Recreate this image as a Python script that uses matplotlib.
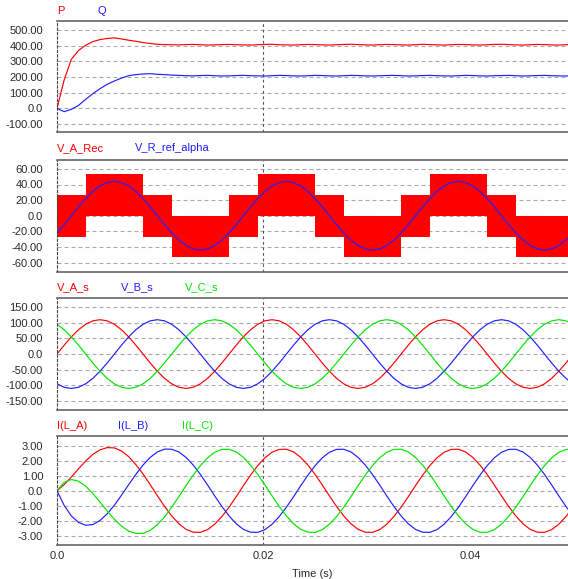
import numpy as np
import matplotlib
matplotlib.use('Agg')
import matplotlib.pyplot as plt
from matplotlib.ticker import FuncFormatter

W, H = 568, 579
DPI = 100

FONT = 'Liberation Sans'
SMALL_SIZE = 8
LW = 0.85

RED = '#ff0000'
BLUE = '#1f1fff'
GREEN = '#00e600'
GRID = '#aaaaaa'
FRAME = '#666666'
TEXT = '#2a2a2a'

# sample step of the waveforms: 15 deg of a 60 Hz period
T_STEP = 1.0 / 1440
# inverter sector: 60 deg
SECTOR = 1.0 / 360
T_MAX = 0.0495

# ---- panel 1: P, Q
p_out = [
  0, 182, 314, 370, 404, 427, 440, 447, 451, 444, 436, 429, 421, 415, 410, 408,
  407, 406, 408, 409, 407, 405, 406, 408, 409, 407, 406, 405,
  407, 409, 410, 407, 406, 405, 407, 409, 408, 406, 405, 407,
  409, 410, 408, 406, 405, 407, 409, 408, 406, 405, 407, 410,
  408, 406, 405, 407, 409, 408, 406, 405, 407, 409, 410, 408,
  406, 405, 407, 409, 408, 406, 405, 407, 409,
]
q_out = [
  0, -21, -6, 19, 58, 94, 126, 154, 175, 194, 209, 216, 220, 222, 218, 216,
  213, 211, 209, 208, 210, 211, 209, 207, 208, 210, 211, 209,
  208, 207, 209, 211, 210, 208, 207, 209, 211, 210, 208, 207,
  209, 211, 210, 208, 207, 209, 210, 211, 209, 207, 208, 210,
  211, 209, 208, 207, 209, 211, 210, 208, 207, 209, 210, 211,
  209, 207, 208, 210, 211, 209, 208, 207, 209,
]

# ---- panel 2: rectifier voltage band (per sector) and reference
rec_low = [-26.7, 0.0, 0.0, -26.7, -53.3, -53.3,
           -26.7, 0.0, 0.0, -26.7, -53.3, -53.3,
           -26.7, 0.0, 0.0, -26.7, -53.3, -53.3]
rec_high = [26.7, 53.3, 53.3, 26.7, 0.0, 0.0,
            26.7, 53.3, 53.3, 26.7, 0.0, 0.0,
            26.7, 53.3, 53.3, 26.7, 0.0, 0.0]
v_ref_alpha = [
  -22.0, -11.4, 0.0, 11.4, 22.0, 31.1, 38.1, 42.5, 44.0, 42.5, 38.1, 31.1,
  22.0, 11.4, 0.0, -11.4, -22.0, -31.1, -38.1, -42.5, -44.0, -42.5, -38.1, -31.1,
  -22.0, -11.4, 0.0, 11.4, 22.0, 31.1, 38.1, 42.5, 44.0, 42.5, 38.1, 31.1,
  22.0, 11.4, 0.0, -11.4, -22.0, -31.1, -38.1, -42.5, -44.0, -42.5, -38.1, -31.1,
  -22.0, -11.4, 0.0, 11.4, 22.0, 31.1, 38.1, 42.5, 44.0, 42.5, 38.1, 31.1,
  22.0, 11.4, 0.0, -11.4, -22.0, -31.1, -38.1, -42.5, -44.0, -42.5, -38.1, -31.1,
  -22.0,
]

# ---- panel 3: source voltages
v_a_s = [
  0.0, 28.5, 55.0, 77.8, 95.3, 106.3, 110.0, 106.3, 95.3, 77.8, 55.0, 28.5,
  0.0, -28.5, -55.0, -77.8, -95.3, -106.3, -110.0, -106.3, -95.3, -77.8, -55.0, -28.5,
  0.0, 28.5, 55.0, 77.8, 95.3, 106.3, 110.0, 106.3, 95.3, 77.8, 55.0, 28.5,
  0.0, -28.5, -55.0, -77.8, -95.3, -106.3, -110.0, -106.3, -95.3, -77.8, -55.0, -28.5,
  0.0, 28.5, 55.0, 77.8, 95.3, 106.3, 110.0, 106.3, 95.3, 77.8, 55.0, 28.5,
  0.0, -28.5, -55.0, -77.8, -95.3, -106.3, -110.0, -106.3, -95.3, -77.8, -55.0, -28.5,
  0.0,
]
v_b_s = [
  -95.3, -106.3, -110.0, -106.3, -95.3, -77.8, -55.0, -28.5, 0.0, 28.5, 55.0, 77.8,
  95.3, 106.3, 110.0, 106.3, 95.3, 77.8, 55.0, 28.5, 0.0, -28.5, -55.0, -77.8,
  -95.3, -106.3, -110.0, -106.3, -95.3, -77.8, -55.0, -28.5, 0.0, 28.5, 55.0, 77.8,
  95.3, 106.3, 110.0, 106.3, 95.3, 77.8, 55.0, 28.5, 0.0, -28.5, -55.0, -77.8,
  -95.3, -106.3, -110.0, -106.3, -95.3, -77.8, -55.0, -28.5, 0.0, 28.5, 55.0, 77.8,
  95.3, 106.3, 110.0, 106.3, 95.3, 77.8, 55.0, 28.5, 0.0, -28.5, -55.0, -77.8,
  -95.3,
]
v_c_s = [
  95.3, 77.8, 55.0, 28.5, 0.0, -28.5, -55.0, -77.8, -95.3, -106.3, -110.0, -106.3,
  -95.3, -77.8, -55.0, -28.5, 0.0, 28.5, 55.0, 77.8, 95.3, 106.3, 110.0, 106.3,
  95.3, 77.8, 55.0, 28.5, 0.0, -28.5, -55.0, -77.8, -95.3, -106.3, -110.0, -106.3,
  -95.3, -77.8, -55.0, -28.5, 0.0, 28.5, 55.0, 77.8, 95.3, 106.3, 110.0, 106.3,
  95.3, 77.8, 55.0, 28.5, 0.0, -28.5, -55.0, -77.8, -95.3, -106.3, -110.0, -106.3,
  -95.3, -77.8, -55.0, -28.5, 0.0, 28.5, 55.0, 77.8, 95.3, 106.3, 110.0, 106.3,
  95.3,
]

# ---- panel 4: line currents
i_l_a = [
  0.00, 0.41, 0.92, 1.46, 1.98, 2.42, 2.72, 2.87, 2.85, 2.64, 2.27, 1.74,
  1.12, 0.41, -0.33, -1.03, -1.67, -2.19, -2.56, -2.75, -2.76, -2.58, -2.22, -1.71,
  -1.09, -0.39, 0.34, 1.04, 1.67, 2.19, 2.56, 2.75, 2.76, 2.58, 2.22, 1.71,
  1.09, 0.39, -0.34, -1.04, -1.67, -2.19, -2.56, -2.75, -2.76, -2.58, -2.22, -1.71,
  -1.09, -0.39, 0.34, 1.04, 1.67, 2.19, 2.56, 2.75, 2.76, 2.58, 2.22, 1.71,
  1.09, 0.39, -0.34, -1.04, -1.67, -2.19, -2.56, -2.75, -2.76, -2.58, -2.22, -1.71,
  -1.09,
]
i_l_b = [
  0.00, -0.97, -1.67, -2.10, -2.29, -2.24, -1.97, -1.53, -0.96, -0.29, 0.41, 1.09,
  1.71, 2.22, 2.58, 2.77, 2.76, 2.58, 2.22, 1.71, 1.09, 0.39, -0.34, -1.04,
  -1.67, -2.19, -2.56, -2.75, -2.76, -2.58, -2.22, -1.71, -1.09, -0.39, 0.34, 1.04,
  1.67, 2.19, 2.56, 2.75, 2.76, 2.58, 2.22, 1.71, 1.09, 0.39, -0.34, -1.04,
  -1.67, -2.19, -2.56, -2.75, -2.76, -2.58, -2.22, -1.71, -1.09, -0.39, 0.34, 1.04,
  1.67, 2.19, 2.56, 2.75, 2.76, 2.58, 2.22, 1.71, 1.09, 0.39, -0.34, -1.04,
  -1.67,
]
i_l_c = [
  0.00, 0.56, 0.75, 0.64, 0.31, -0.18, -0.75, -1.34, -1.89, -2.35, -2.68, -2.83,
  -2.83, -2.63, -2.25, -1.74, -1.09, -0.39, 0.34, 1.04, 1.67, 2.19, 2.56, 2.75,
  2.76, 2.58, 2.22, 1.71, 1.09, 0.39, -0.34, -1.04, -1.67, -2.19, -2.56, -2.75,
  -2.76, -2.58, -2.22, -1.71, -1.09, -0.39, 0.34, 1.04, 1.67, 2.19, 2.56, 2.75,
  2.76, 2.58, 2.22, 1.71, 1.09, 0.39, -0.34, -1.04, -1.67, -2.19, -2.56, -2.75,
  -2.76, -2.58, -2.22, -1.71, -1.09, -0.39, 0.34, 1.04, 1.67, 2.19, 2.56, 2.75,
  2.76,
]

x_ticks = [0.0, 0.02, 0.04]
x_tick_labels = ['0.0', '0.02', '0.04']

# panel layout in pixels: (top, bottom), y limits, y ticks
PANELS = [
  ((20.5, 132), (-151, 562), [-100, 0, 100, 200, 300, 400, 500]),
  ((159.5, 272), (-72, 72), [-60, -40, -20, 0, 20, 40, 60]),
  ((297.5, 410), (-179, 181), [-150, -100, -50, 0, 50, 100, 150]),
  ((436, 545), (-3.6, 3.64), [-3, -2, -1, 0, 1, 2, 3]),
]
LEFT_PX = 57

# legend texts: (x px, y px, text, colour)
LEGENDS = [
  [(57, 10.7, 'P', RED), (97, 10.7, 'Q', BLUE)],
  [(57, 148.3, 'V_A_Rec', RED), (135, 148.3, 'V_R_ref_alpha', BLUE)],
  [(57, 287.3, 'V_A_s', RED), (121, 287.3, 'V_B_s', BLUE), (185, 287.3, 'V_C_s', GREEN)],
  [(57, 426, 'I(L_A)', RED), (118, 426, 'I(L_B)', BLUE), (182, 426, 'I(L_C)', GREEN)],
]


def fmt_y(v, pos):
  if abs(v) < 1e-9:
    return '0.0'
  return '%.2f' % v


def style_axis(ax, ylim, yticks, bottom):
  ax.set_xlim(0, T_MAX)
  ax.set_ylim(*ylim)
  ax.set_yticks(yticks)
  ax.yaxis.set_major_formatter(FuncFormatter(fmt_y))
  ax.set_xticks(x_ticks)
  if bottom:
    ax.set_xticklabels(x_tick_labels)
  else:
    ax.set_xticklabels([])
  ax.tick_params(axis='y', length=0, pad=10, labelsize=SMALL_SIZE, labelcolor=TEXT)
  ax.tick_params(axis='x', length=0, pad=4.5, labelsize=SMALL_SIZE, labelcolor=TEXT)

  for yv in yticks:
    ax.axhline(yv, color=GRID, lw=0.8, ls=(0, (3.6, 2.7)), zorder=0)
  ax.axvline(0.02, color='#555555', lw=0.8, ls=(0, (2.5, 2.5)), zorder=0.5)

  ax.spines['right'].set_visible(False)
  for side in ['top', 'bottom']:
    ax.spines[side].set_color(FRAME)
    ax.spines[side].set_linewidth(1.2)
  ax.spines['left'].set_color('#444444')
  ax.spines['left'].set_linewidth(0.8)
  ax.spines['left'].set_linestyle((0, (2, 2)))


def plot(output_file='out.png'):
  plt.rcParams['font.family'] = [FONT, 'DejaVu Sans']

  fig = plt.figure(figsize=(W / DPI, H / DPI), dpi=DPI)

  t = np.arange(len(p_out)) * T_STEP
  edges = np.arange(len(rec_low) + 1) * SECTOR

  axes = []
  for i, ((top, bot), ylim, yticks) in enumerate(PANELS):
    ax = fig.add_axes([LEFT_PX / W, 1 - bot / H, 1 - LEFT_PX / W, (bot - top) / H])
    style_axis(ax, ylim, yticks, i == len(PANELS) - 1)
    axes.append(ax)

  ax1, ax2, ax3, ax4 = axes

  ax1.plot(t, p_out, color=RED, lw=LW)
  ax1.plot(t, q_out, color=BLUE, lw=LW)

  ax2.fill_between(edges, rec_low + rec_low[-1:], rec_high + rec_high[-1:],
    step='post', color=RED, lw=0, zorder=2)
  ax2.plot(t, v_ref_alpha, color=BLUE, lw=LW, zorder=3)

  ax3.plot(t, v_a_s, color=RED, lw=LW)
  ax3.plot(t, v_b_s, color=BLUE, lw=LW)
  ax3.plot(t, v_c_s, color=GREEN, lw=LW)

  ax4.plot(t, i_l_a, color=RED, lw=LW)
  ax4.plot(t, i_l_b, color=BLUE, lw=LW)
  ax4.plot(t, i_l_c, color=GREEN, lw=LW)

  for items in LEGENDS:
    for x, y, txt, col in items:
      fig.text(x / W, 1 - y / H, txt, color=col, fontsize=SMALL_SIZE,
        ha='left', va='center')

  fig.text((LEFT_PX + W) / 2 / W, 1 - 574 / H, 'Time (s)', color=TEXT,
    fontsize=SMALL_SIZE, ha='center', va='center')

  fig.savefig(output_file, dpi=DPI)


if __name__ == '__main__':
  plot('out.png')
